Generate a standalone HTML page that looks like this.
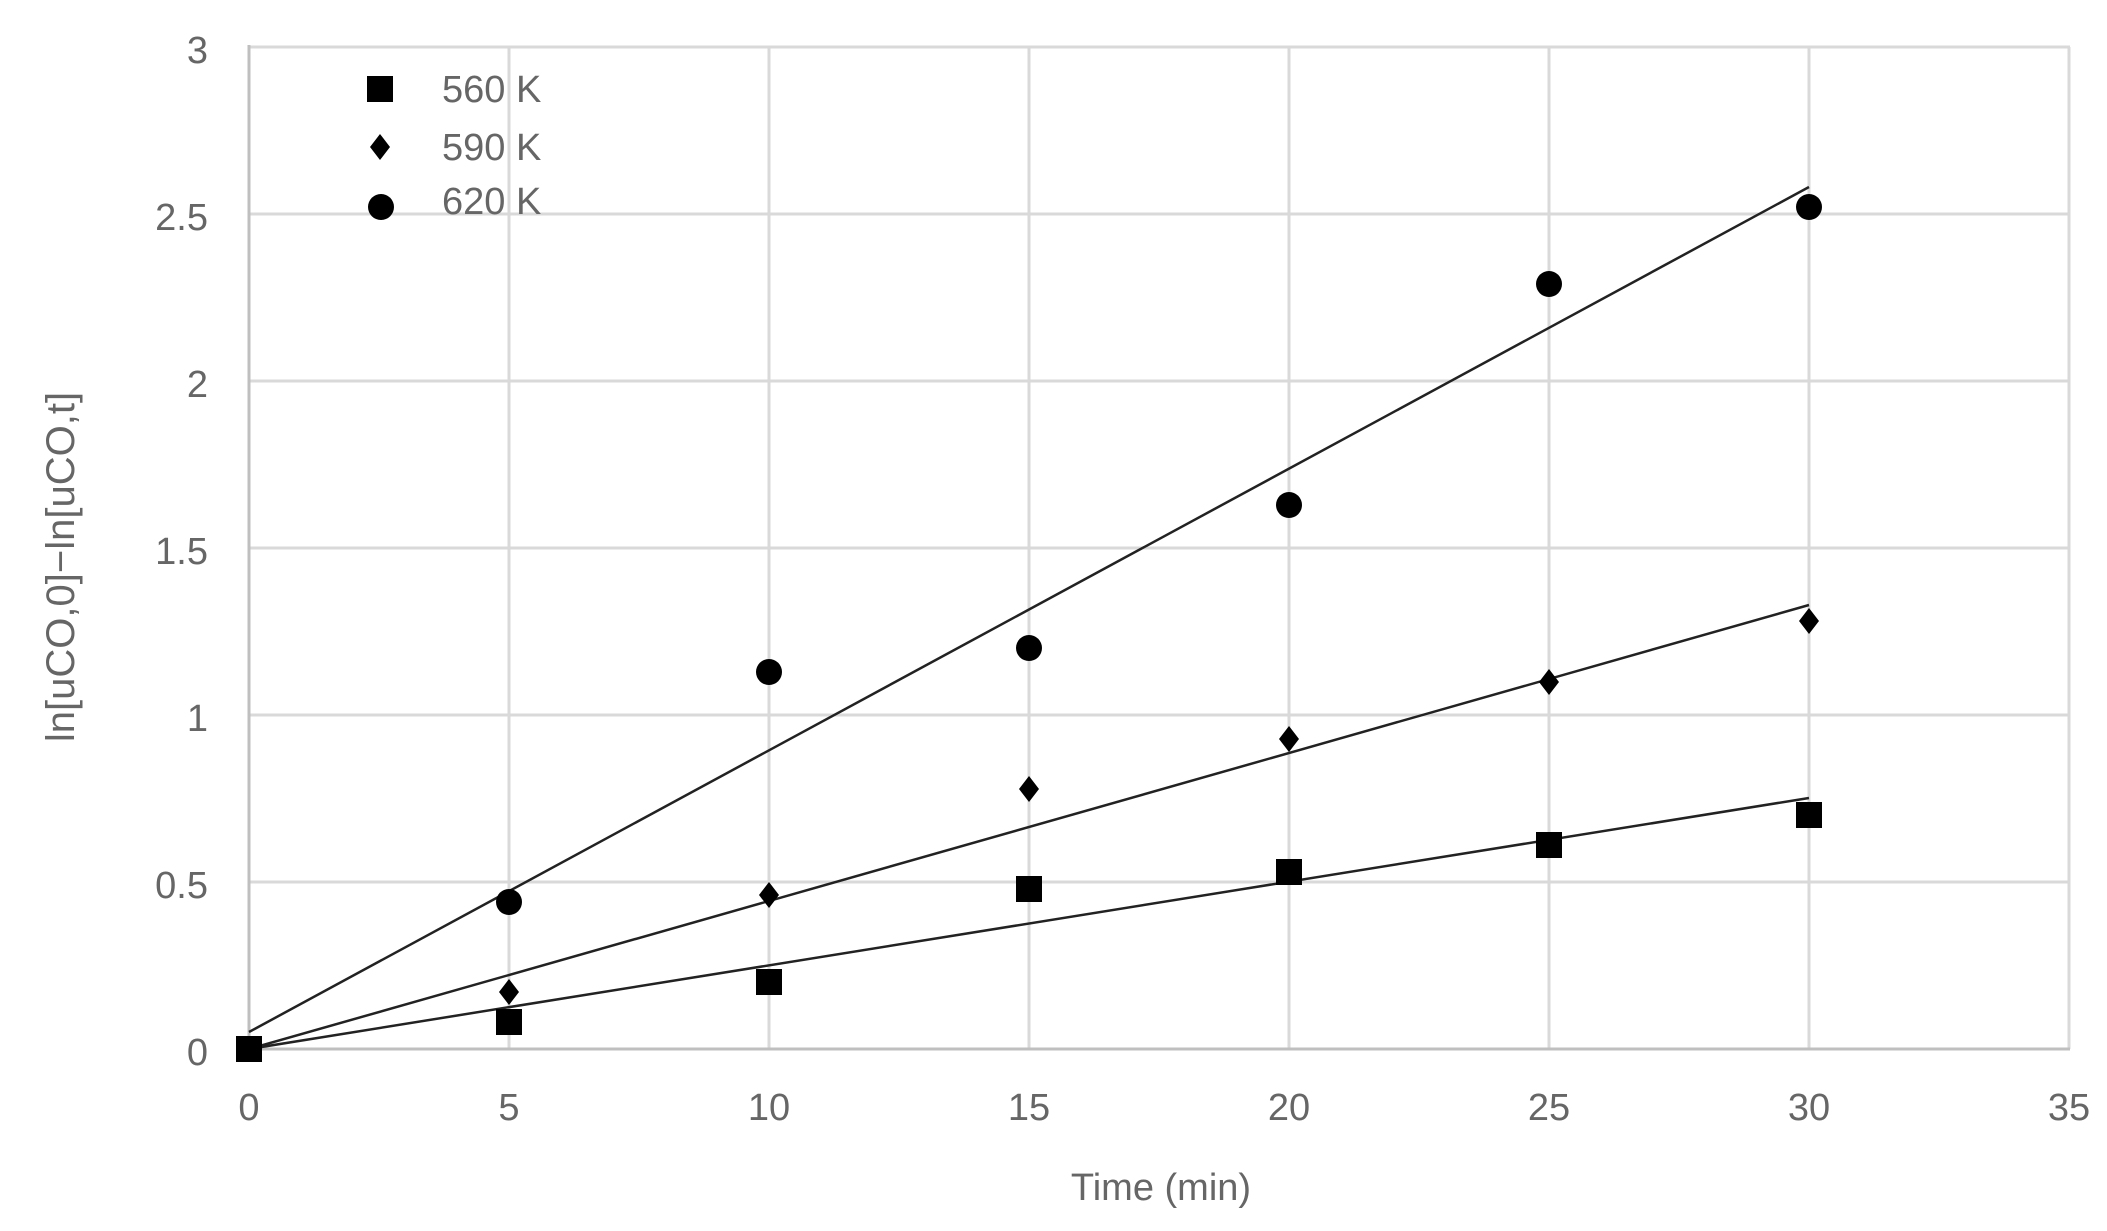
<!DOCTYPE html>
<html><head><meta charset="utf-8"><style>
html,body{margin:0;padding:0;background:#fff;}
svg{display:block;font-family:"Liberation Sans",sans-serif;}
</style></head><body>
<svg width="2107" height="1231" viewBox="0 0 2107 1231" xmlns="http://www.w3.org/2000/svg">
<g stroke="#d9d9d9" stroke-width="3">
<line x1="249" y1="47" x2="2070" y2="47"/>
<line x1="249" y1="214" x2="2070" y2="214"/>
<line x1="249" y1="381" x2="2070" y2="381"/>
<line x1="249" y1="548" x2="2070" y2="548"/>
<line x1="249" y1="715" x2="2070" y2="715"/>
<line x1="249" y1="882" x2="2070" y2="882"/>
<line x1="509" y1="47" x2="509" y2="1049"/>
<line x1="769" y1="47" x2="769" y2="1049"/>
<line x1="1029" y1="47" x2="1029" y2="1049"/>
<line x1="1289" y1="47" x2="1289" y2="1049"/>
<line x1="1549" y1="47" x2="1549" y2="1049"/>
<line x1="1809" y1="47" x2="1809" y2="1049"/>
<line x1="2069" y1="47" x2="2069" y2="1049"/>
</g>
<line x1="249" y1="45" x2="249" y2="1051" stroke="#bfbfbf" stroke-width="3"/>
<line x1="247" y1="1049" x2="2070" y2="1049" stroke="#bfbfbf" stroke-width="3"/>
<g fill="#666" font-size="38" text-anchor="end">
<text x="208" y="63">3</text>
<text x="208" y="230">2.5</text>
<text x="208" y="397">2</text>
<text x="208" y="564">1.5</text>
<text x="208" y="731">1</text>
<text x="208" y="898">0.5</text>
<text x="208" y="1065">0</text>
</g>
<g fill="#666" font-size="38" text-anchor="middle">
<text x="249" y="1120">0</text>
<text x="509" y="1120">5</text>
<text x="769" y="1120">10</text>
<text x="1029" y="1120">15</text>
<text x="1289" y="1120">20</text>
<text x="1549" y="1120">25</text>
<text x="1809" y="1120">30</text>
<text x="2069" y="1120">35</text>
<text x="1161" y="1200">Time (min)</text>
<text transform="translate(74,567) rotate(-90)" font-size="40">ln[uCO,0]−ln[uCO,t]</text>
</g>
<g stroke="#222" stroke-width="2.5">
<line x1="249" y1="1049" x2="1809" y2="798"/>
<line x1="249" y1="1049" x2="1809" y2="605"/>
<line x1="249" y1="1032" x2="1809" y2="187"/>
</g>
<g fill="#000">
<rect x="236" y="1036" width="26" height="26"/>
<rect x="496" y="1009" width="26" height="26"/>
<rect x="756" y="969" width="26" height="26"/>
<rect x="1016" y="876" width="26" height="26"/>
<rect x="1276" y="859" width="26" height="26"/>
<rect x="1536" y="832" width="26" height="26"/>
<rect x="1796" y="802" width="26" height="26"/>
<path d="M249 1036 l10 13 l-10 13 l-10 -13z"/>
<path d="M509 979 l10 13 l-10 13 l-10 -13z"/>
<path d="M769 882 l10 13 l-10 13 l-10 -13z"/>
<path d="M1029 776 l10 13 l-10 13 l-10 -13z"/>
<path d="M1289 726 l10 13 l-10 13 l-10 -13z"/>
<path d="M1549 669 l10 13 l-10 13 l-10 -13z"/>
<path d="M1809 608 l10 13 l-10 13 l-10 -13z"/>
<circle cx="249" cy="1049" r="13"/>
<circle cx="509" cy="902" r="13"/>
<circle cx="769" cy="672" r="13"/>
<circle cx="1029" cy="648" r="13"/>
<circle cx="1289" cy="505" r="13"/>
<circle cx="1549" cy="284" r="13"/>
<circle cx="1809" cy="207" r="13"/>
<rect x="367" y="76" width="26" height="26"/>
<path d="M380 134 l10 13 l-10 13 l-10 -13z"/>
<circle cx="381" cy="207" r="13"/>
</g>
<g fill="#666" font-size="38">
<text x="442" y="102">560 K</text>
<text x="442" y="160">590 K</text>
<text x="442" y="214">620 K</text>
</g>
</svg>
</body></html>
